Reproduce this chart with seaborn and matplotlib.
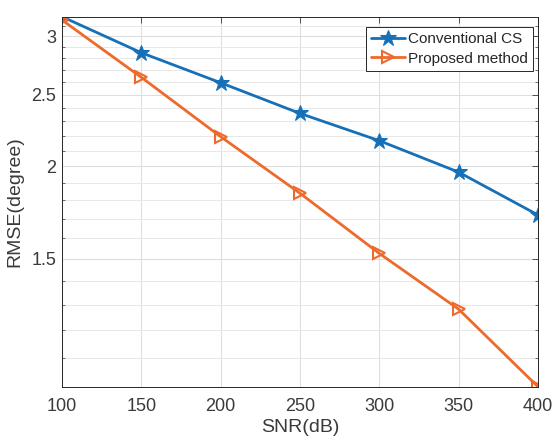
import numpy as np
import pandas as pd
import matplotlib
matplotlib.use("Agg")
import matplotlib.pyplot as plt
from matplotlib.ticker import FixedLocator, FixedFormatter, NullFormatter
import seaborn as sns

snr = [100, 150, 200, 250, 300, 350, 400]
conventional_cs = [3.186, 2.848, 2.594, 2.358, 2.166, 1.964, 1.719]
proposed_method = [3.153, 2.638, 2.193, 1.839, 1.525, 1.282, 1.007]
series_names = ["Conventional CS", "Proposed method"]
x_ticks = [100, 150, 200, 250, 300, 350, 400]
y_ticks = [1.5, 2, 2.5, 3]
y_tick_labels = ["1.5", "2", "2.5", "3"]

df = pd.DataFrame({
    "SNR": snr * 2,
    "RMSE": conventional_cs + proposed_method,
    "method": [series_names[0]] * len(snr) + [series_names[1]] * len(snr),
})

sns.set_style("white")
plt.rcParams["font.family"] = ["Liberation Sans", "DejaVu Sans"]

blue = "#1670B8"
orange = "#EE6A2C"
txt = "#3a3a3a"

fig = plt.figure(figsize=(5.54, 4.4), dpi=100)
ax = fig.add_axes([0.112, 0.121, 0.859, 0.841])

sns.lineplot(data=df[df.method == series_names[0]], x="SNR", y="RMSE", ax=ax,
             color=blue, marker="*", markersize=12, linewidth=2,
             markeredgecolor=blue, markerfacecolor=blue, label=series_names[0],
             legend=False)
sns.lineplot(data=df[df.method == series_names[1]], x="SNR", y="RMSE", ax=ax,
             color=orange, marker=">", markersize=8, linewidth=2,
             markeredgecolor=orange, markerfacecolor="none", markeredgewidth=1.5,
             label=series_names[1], legend=False)

ax.set_yscale("log")
ax.set_xlim(100, 400)
ax.set_ylim(min(proposed_method), max(conventional_cs))
ax.xaxis.set_major_locator(FixedLocator(x_ticks))
ax.yaxis.set_major_locator(FixedLocator(y_ticks))
ax.yaxis.set_major_formatter(FixedFormatter(y_tick_labels))
ax.yaxis.set_minor_locator(FixedLocator(np.round(np.arange(1.0, 3.3, 0.1), 2)))
ax.yaxis.set_minor_formatter(NullFormatter())

ax.grid(True, which="major", color="#dedede", linewidth=0.8)
ax.grid(True, which="minor", axis="y", color="#e8e8e8", linewidth=0.7)
ax.set_axisbelow(True)

for s in ax.spines.values():
    s.set_visible(True)
    s.set_color("#262626")
    s.set_linewidth(0.7)

ax.tick_params(axis="x", which="major", direction="in", length=4, width=0.6,
               colors=txt, labelsize=13, top=True, pad=8)
ax.tick_params(axis="y", which="major", direction="in", length=4, width=0.6,
               colors=txt, labelsize=13, right=True, pad=4)
ax.tick_params(axis="y", which="minor", direction="in", length=2, width=0.5,
               colors=txt, right=True, left=True)

ax.set_xlabel("SNR(dB)", fontsize=14, color=txt, labelpad=3)
ax.set_ylabel("RMSE(degree)", fontsize=14, color=txt, labelpad=6)

handles = ax.get_lines()
leg = ax.legend(handles=handles, labels=series_names, loc="upper right",
                bbox_to_anchor=(0.99, 0.972), fontsize=11, frameon=True,
                fancybox=False, edgecolor="#262626", framealpha=1,
                handlelength=2.2, handletextpad=0.2, borderpad=0.35,
                labelspacing=0.35, borderaxespad=0)
leg.get_frame().set_linewidth(0.7)
for t in leg.get_texts():
    t.set_color("#262626")

fig.savefig("out.png", dpi=100)
